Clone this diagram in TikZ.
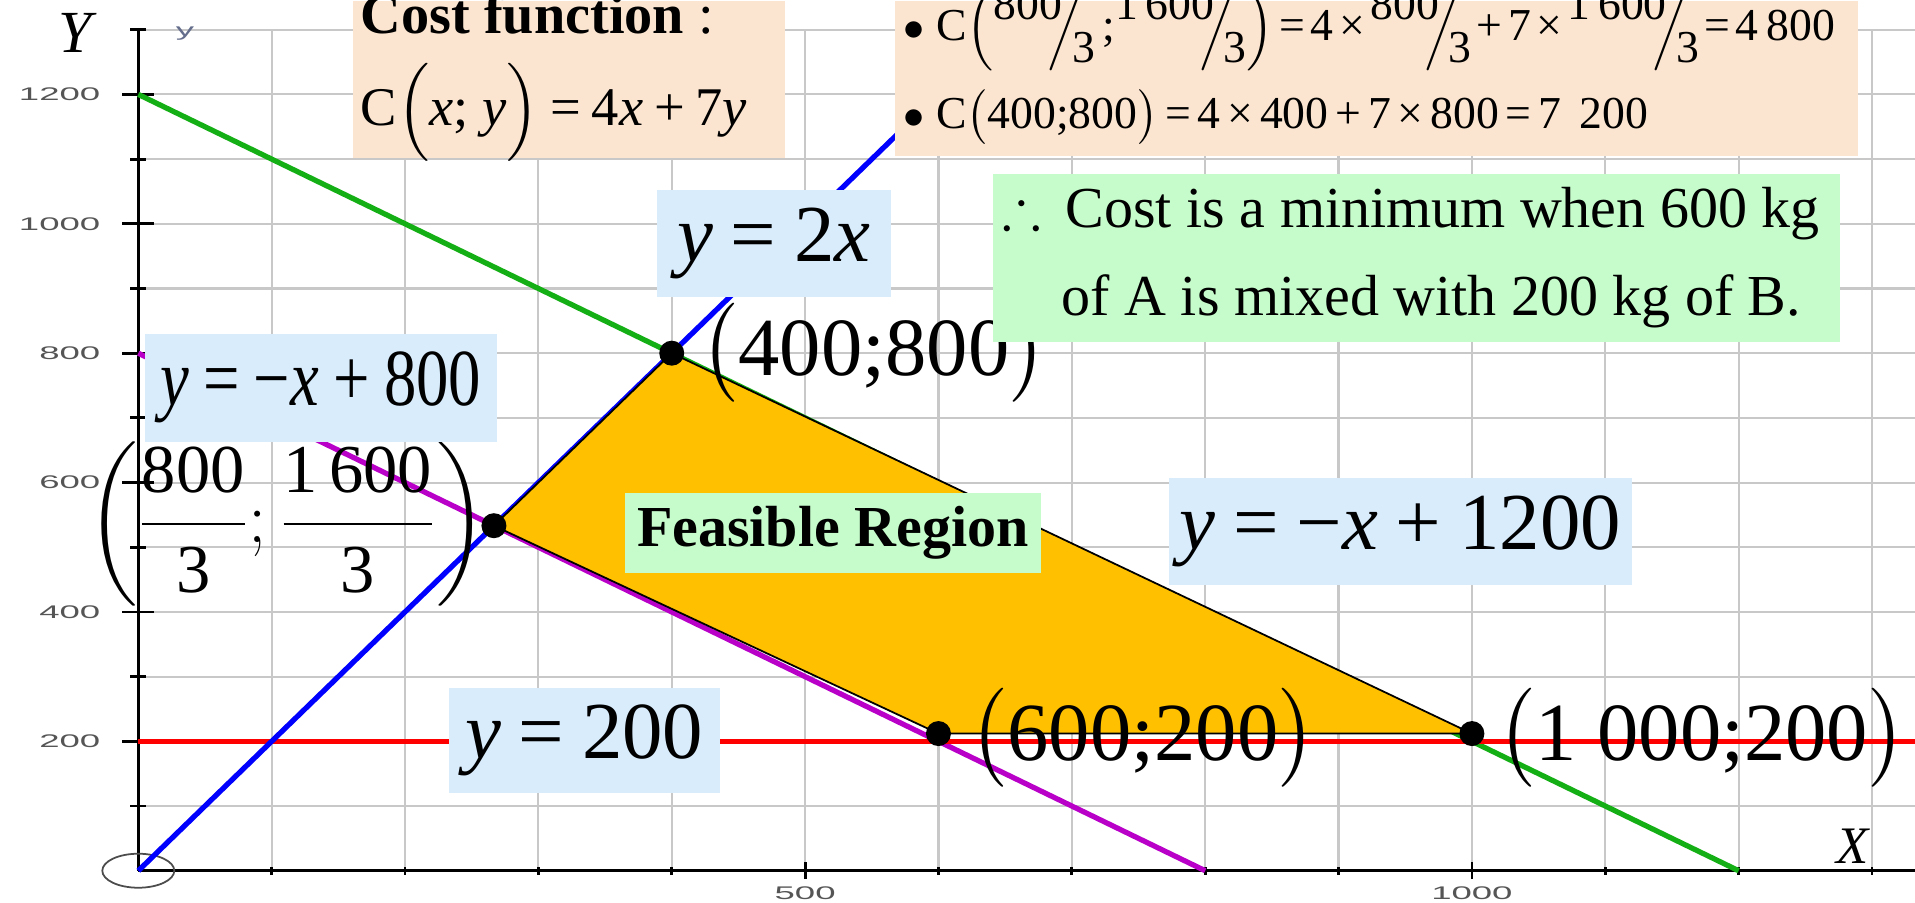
\documentclass[tikz,border=0pt]{standalone}
\usepackage{amsmath, amssymb}
\usepackage{fontspec}
\setmainfont{Liberation Serif}
\setsansfont{Liberation Sans}
\usepackage{xcolor}
\usepackage{graphicx}

\definecolor{peach}{HTML}{FBE5D0}
\definecolor{skyblue}{HTML}{D8ECFC}
\definecolor{mint}{HTML}{C6FCCB}
\definecolor{regionfill}{HTML}{FFC000}
\definecolor{gridgray}{HTML}{C8C8C8}
\definecolor{linegreen}{RGB}{20,175,20}
\definecolor{linepurple}{RGB}{185,0,200}
\definecolor{ticktext}{RGB}{85,85,85}
\definecolor{axisgray}{RGB}{100,110,140}

\newcommand{\vx}{\textit{x}}
\newcommand{\vy}{\textit{y}}
\newcommand{\op}[2][0.22em]{\hspace{#1}#2\hspace{#1}}
\newcommand{\stretchx}[1]{\scalebox{2}[1]{#1}}
\newcommand{\slfrac}[2]{\raisebox{0.44em}{#1}\hspace{-0.32em}$\Big/$\hspace{-0.28em}\raisebox{-0.5em}{#2}}

\begin{document}
\begin{tikzpicture}[
  gridline/.style={gridgray, line width=0.6pt},
  axisline/.style={black, line width=0.8pt},
  graphline/.style={line width=1.5pt},
  region/.style={fill=regionfill, draw=black, line width=0.5pt},
  vertex/.style={circle, fill=black, minimum size=0.25cm, inner sep=0pt},
  box/.style={rectangle, inner sep=0pt, anchor=north west},
  eqlabel/.style={font=\fontsize{23}{27}\selectfont},
  ptlabel/.style={font=\fontsize{23.5}{28}\selectfont, inner sep=0pt, anchor=base west},
  ticklabel/.style={font=\sffamily\fontsize{5.2}{6}\selectfont, text=ticktext, inner sep=0pt},
  boxtext/.style={inner sep=0pt, anchor=base west},
]
\useasboundingbox (0,0) rectangle (19.15,9.02);
\fill[white] (0,0) rectangle (19.15,9.02);

% graph paper, axes and lines in data units
\begin{scope}[shift={(1.383,0.313)}, x=0.013333cm, y=0.006467cm]
  \foreach \gx in {100,200,...,1300}
    \draw[gridline] (\gx,0) -- (\gx,1300);
  \foreach \gy in {100,200,...,1300}
    \draw[gridline] (0,\gy) -- (1340,\gy);

  \draw[axisline] (0,0) -- (0,1300);
  \draw[axisline] (0,0) -- (1340,0);
  \foreach \gx in {100,200,300,400,600,700,800,900,1100,1200,1300}
    \draw[axisline] (\gx,-6) -- (\gx,6);
  \foreach \gx in {500,1000}
    \draw[axisline] (\gx,-13) -- (\gx,13);
  \foreach \gy in {100,300,...,1300}
    \draw[axisline] (-6,\gy) -- (6,\gy);
  \foreach \gy in {200,400,...,1200}
    \draw[axisline] (-12,\gy) -- (12,\gy);

  \foreach \gy in {200,400,...,1200}
    \node[ticklabel, anchor=east] at (-28,\gy) {\stretchx{\gy}};
  \foreach \gx in {500,1000}
    \node[ticklabel] at (\gx,-34) {\stretchx{\gx}};
  \node[ticklabel, text=axisgray] (ytiny) at (35,1294) {\stretchx{y}};

  \draw[black!70, line width=0.5pt] (0,0) ellipse [x radius=0.36cm, y radius=0.17cm];

  % constraint lines
  \draw[graphline, linegreen] (0,1200) -- (1200,0);
  \draw[graphline, linepurple] (0,800) -- (800,0);
  \draw[graphline, red] (0,200) -- (1340,200);
  \draw[graphline, blue] (0,0) -- (650,1300);

  % feasible region
  \coordinate (cA) at (266.67,533.33);
  \coordinate (cB) at (400,800);
  \coordinate (cC) at (1000,212);
  \coordinate (cD) at (600,212);
  \draw[region] (cA) -- (cB) -- (cC) -- (cD) -- cycle;
  \node[vertex] (vA) at (cA) {};
  \node[vertex] (vB) at (cB) {};
  \node[vertex] (vC) at (cC) {};
  \node[vertex] (vD) at (cD) {};
\end{scope}

\node[font=\itshape\fontsize{17}{20}\selectfont, inner sep=0pt] (ylab) at (0.75,8.69) {Y};
\node[font=\itshape\fontsize{15}{18}\selectfont, inner sep=0pt] (xlab) at (18.53,0.56) {X};

% corner labels
\node[ptlabel, anchor=center, font=\fontsize{19.5}{23}\selectfont] (labA) at (2.87,3.78)
  {$\left(\dfrac{\text{800}}{\text{3}};\dfrac{\text{1\,600}}{\text{3}}\right)$};
\node[ptlabel] (labB) at (7.00,5.27) {$\big($400;800$\big)$};
\node[ptlabel] (labC) at (9.69,1.42) {$\big($600;200$\big)$};
\node[ptlabel] (labD) at (14.97,1.42) {$\big($1\hspace{0.25em}000;200$\big)$};

% line labels
\node[box, fill=skyblue, minimum width=2.34cm, minimum height=1.07cm, eqlabel] (eqBlue) at (6.56,7.13)
  {\vy\op{=}2\vx};
\node[box, fill=skyblue, minimum width=3.52cm, minimum height=1.08cm, eqlabel] (eqPurple) at (1.44,5.69)
  {\scalebox{0.8}[1]{\vy\op{=}−\vx\op{+}800}};
\node[box, fill=skyblue, minimum width=4.63cm, minimum height=1.07cm, eqlabel] (eqGreen) at (11.68,4.25)
  {\vy\op{=}−\vx\op{+}1200};
\node[box, fill=skyblue, minimum width=2.71cm, minimum height=1.05cm, eqlabel] (eqRed) at (4.48,2.15)
  {\vy\op{=}200};
\node[box, fill=mint, minimum width=4.16cm, minimum height=0.80cm, font=\bfseries\fontsize{16.5}{20}\selectfont] (regionlab) at (6.24,4.10)
  {Feasible Region};

% cost function
\node[box, fill=peach, minimum width=4.32cm, minimum height=1.57cm] (costbox) at (3.52,9.02) {};
\node[boxtext, font=\bfseries\fontsize{16}{19}\selectfont] (costtitle) at (3.60,8.69) {Cost function \textmd{:}};
\node[boxtext, font=\fontsize{15.5}{18}\selectfont] (costfn) at (3.60,7.77)
  {C$\Big($\vx; \vy$\Big)$\op[0.2em]{=}4\vx\op[0.2em]{+}7\vy};

% evaluations
\node[box, fill=peach, minimum width=9.625cm, minimum height=1.55cm] (calcbox) at (8.945,9.02) {};
\node[boxtext, font=\fontsize{13}{15}\selectfont] (calcA) at (9.03,8.62)
  {$\bullet$ C$\Big($\slfrac{800}{3}\,;\slfrac{1\,600}{3}$\Big)$\op[0.12em]{=}4\op[0.12em]{×}\slfrac{800}{3}\op[0.12em]{+}7\op[0.12em]{×}\slfrac{1\,600}{3}\op[0.12em]{=}4\,800};
\node[boxtext, font=\fontsize{13}{15}\selectfont] (calcB) at (9.03,7.74)
  {$\bullet$ C$\big($400;800$\big)$\op[0.15em]{=}4\op[0.15em]{×}400\op[0.15em]{+}7\op[0.15em]{×}800\op[0.15em]{=}7\hspace{0.4em}200};

% conclusion
\node[box, fill=mint, minimum width=8.47cm, minimum height=1.68cm] (mixbox) at (9.92,7.29) {};
\node[boxtext, font=\fontsize{16.5}{20}\selectfont] (mixA) at (10.02,6.75)
  {\makebox[0.63cm][l]{$\therefore$}Cost is a minimum when 600 kg};
\node[boxtext, font=\fontsize{16.5}{20}\selectfont] (mixB) at (10.61,5.87)
  {of A is mixed with 200 kg of B.};
\end{tikzpicture}
\end{document}
